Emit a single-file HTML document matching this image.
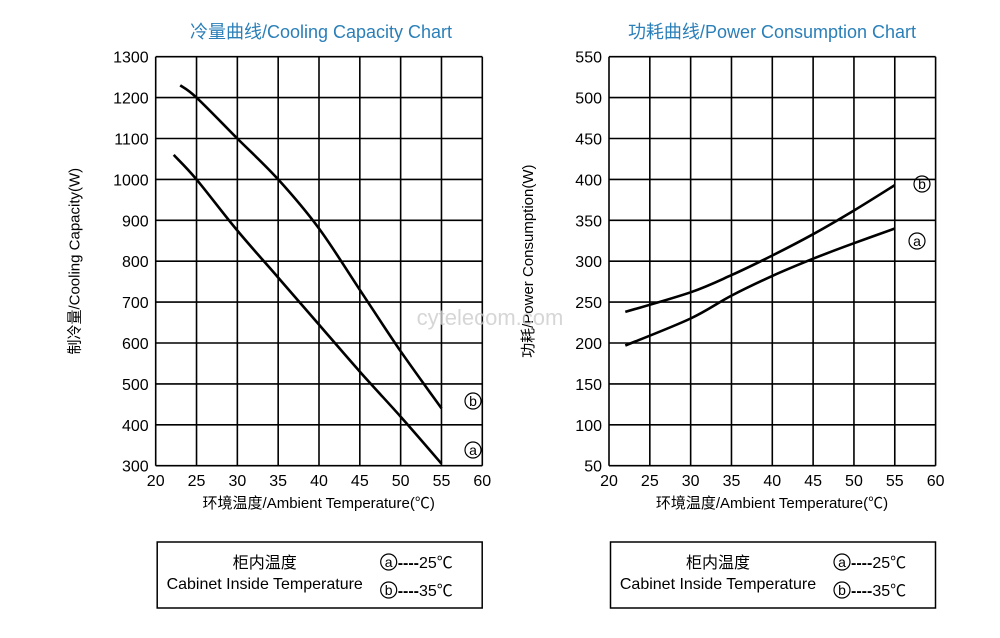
<!DOCTYPE html>
<html><head><meta charset="utf-8"><style>
body{margin:0;background:#fff;width:1000px;height:633px;overflow:hidden}
svg text{font-family:"Liberation Sans","Noto Sans CJK SC",sans-serif}
</style></head><body>
<svg id="s" width="1000" height="633" xmlns="http://www.w3.org/2000/svg"></svg>
<script>
const s=document.getElementById('s');let h='';
function smooth(P){let d=`M${P[0][0].toFixed(1)} ${P[0][1].toFixed(1)}`;
  for(let i=0;i<P.length-1;i++){const p0=P[i-1]||P[i],p1=P[i],p2=P[i+1],p3=P[i+2]||p2;
    const c1=[p1[0]+(p2[0]-p0[0])/6,p1[1]+(p2[1]-p0[1])/6],c2=[p2[0]-(p3[0]-p1[0])/6,p2[1]-(p3[1]-p1[1])/6];
    d+=` C${c1[0].toFixed(1)} ${c1[1].toFixed(1)} ${c2[0].toFixed(1)} ${c2[1].toFixed(1)} ${p2[0].toFixed(1)} ${p2[1].toFixed(1)}`;}
  return d;}
function chart(x0,title,tx,ylab,ymin,ymax,step,curves,labels){
  const x1=x0+326.6,y0=56.7,y1=465.7;const n=(ymax-ymin)/step;
  h+=`<text x="${tx}" y="38" font-size="18" fill="#2a7fb8" text-anchor="middle">${title}</text>`;
  for(let i=0;i<=8;i++){const x=x0+i*(x1-x0)/8;h+=`<line x1="${x}" y1="${y0}" x2="${x}" y2="${y1}" stroke="#000" stroke-width="1.6"/>`;
    h+=`<text x="${x}" y="486" font-size="16" text-anchor="middle">${20+5*i}</text>`;}
  for(let i=0;i<=n;i++){const y=y0+i*(y1-y0)/n;h+=`<line x1="${x0}" y1="${y}" x2="${x1}" y2="${y}" stroke="#000" stroke-width="1.6"/>`;
    h+=`<text x="${x0-7}" y="${y+6}" font-size="16" text-anchor="end">${ymax-i*step}</text>`;}
  h+=`<text transform="translate(${x0-76},${(y0+y1)/2}) rotate(-90)" font-size="15" text-anchor="middle">${ylab}</text>`;
  h+=`<text x="${x0+163}" y="508" font-size="15" text-anchor="middle">环境温度/Ambient Temperature(℃)</text>`;
  const X=t=>x0+(t-20)*(x1-x0)/40,Y=v=>y0+(ymax-v)*(y1-y0)/(ymax-ymin);
  curves.forEach(c=>{h+=`<path d="${smooth(c.map(p=>[X(p[0]),Y(p[1])]))}" fill="none" stroke="#000" stroke-width="2.6" stroke-linejoin="round"/>`;});
  labels.forEach(l=>{h+=`<circle cx="${l[0]}" cy="${l[1]}" r="8" fill="none" stroke="#000" stroke-width="1.2"/><text x="${l[0]}" y="${l[1]+5}" font-size="14" text-anchor="middle">${l[2]}</text>`;});
  h+=`<rect x="${x0+1.5}" y="542" width="325" height="66" fill="none" stroke="#000" stroke-width="1.5"/>`;
  h+=`<text x="${x0+109}" y="568" font-size="16" text-anchor="middle">柜内温度</text>`;
  h+=`<text x="${x0+109}" y="589" font-size="16" text-anchor="middle">Cabinet Inside Temperature</text>`;
  [[562,'a','25'],[590,'b','35']].forEach(r=>{h+=`<circle cx="${x0+233}" cy="${r[0]}" r="8" fill="none" stroke="#000" stroke-width="1.2"/><text x="${x0+233}" y="${r[0]+5}" font-size="14" text-anchor="middle">${r[1]}</text><text x="${x0+242}" y="${r[0]+6}" font-size="16"><tspan font-weight="bold">----</tspan>${r[2]}℃</text>`;});
}
chart(155.7,'冷量曲线/Cooling Capacity Chart',321,'制冷量/Cooling  Capacity(W)',300,1300,100,
 [[[23,1230],[25,1200],[30,1100],[35,1000],[40,880],[45,730],[50,580],[55,440]],
  [[22.2,1060],[25,1000],[30,875],[35,760],[40,645],[45,530],[50,420],[55,305]]],
 [[473,401,'b'],[473,450,'a']]);
chart(609,'功耗曲线/Power Consumption Chart',772,'功耗/Power Consumption(W)',50,550,50,
 [[[22,238],[30,262],[35,283],[40,307],[45,333],[50,362],[55,393]],
  [[22,197],[30,230],[35,258],[40,282],[45,303],[50,322],[55,340]]],
 [[922,184,'b'],[917,241,'a']]);
h+=`<text x="490" y="325" font-size="22" fill="#ccc" text-anchor="middle" opacity="0.8">cytelecom.com</text>`;
s.innerHTML=h;
</script>
</body></html>
